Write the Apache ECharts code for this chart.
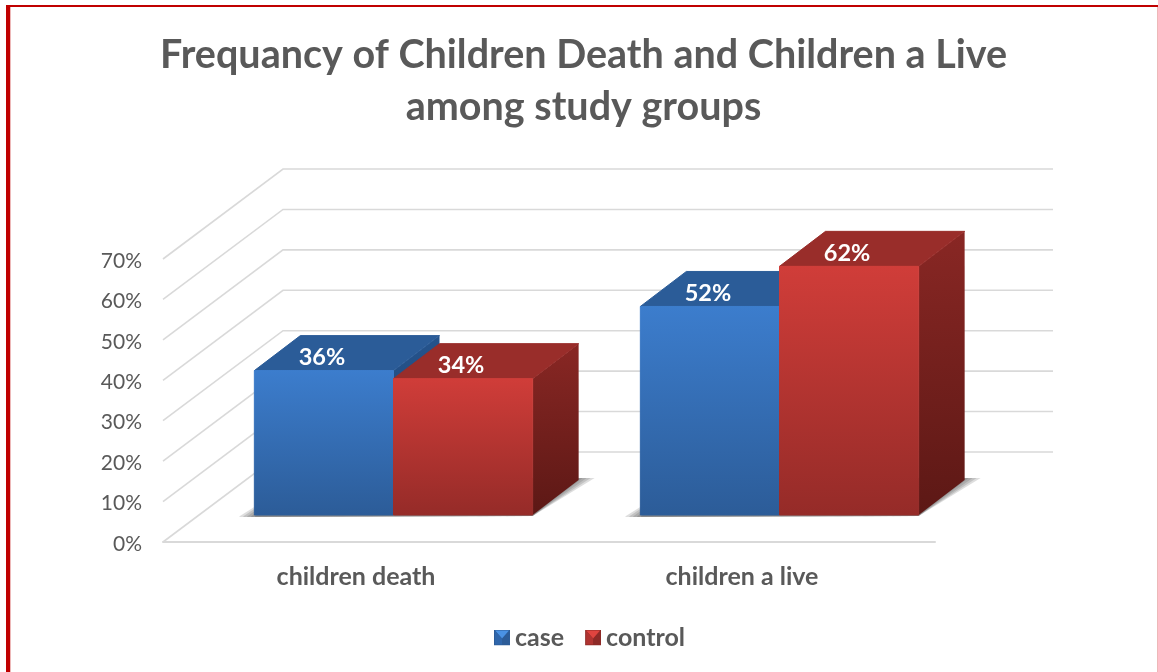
<!DOCTYPE html>
<html>
<head>
<meta charset="utf-8">
<style>html,body{margin:0;padding:0;background:#fff}#chart{width:1158px;height:672px}</style>
<script src="https://cdn.jsdelivr.net/npm/echarts@6/dist/echarts.min.js"></script>
</head>
<body>
<div id="chart"></div>
<script>
// Chart data
const titleLines = ['Frequancy of Children Death and Children a Live', 'among study groups'];
const categories = ['children death', 'children a live'];
const caseValues = [36, 52];
const controlValues = [34, 62];
const yTicks = [0, 10, 20, 30, 40, 50, 60, 70];

// Oblique projection of the 3D box scene
const WALL_DX = 120, WALL_DY = -90;
const BASE_DX = 37.5, BASE_DY = -27;
const BOX_DX = 46, BOX_DY = -35;
const BAR_SHARE = 0.3605;
const FORESHORTEN = 0.992;

const TEXT = '#595959';
const GRID_LINE = '#D9D9D9';
const FONT = 'Lato, "Open Sans", sans-serif';

const vertical = (top, bottom) => ({
  type: 'linear', x: 0, y: 0, x2: 0, y2: 1,
  colorStops: [{ offset: 0, color: top }, { offset: 1, color: bottom }]
});

const palette = {
  case: { front: vertical('#3C7DCD', '#2C5C98'), top: '#2B5C98', side: vertical('#25538C', '#1E4472') },
  control: { front: vertical('#D03D39', '#952B28'), top: '#992D2A', side: vertical('#892724', '#5C1815') }
};

// Wall rules: a diagonal up the side wall, then a horizontal along the back wall
function renderWallLine(params, api) {
  const grid = params.coordSys;
  const p = api.coord([0, api.value(0)]);
  const y = p[1], x0 = grid.x;
  return {
    type: 'polyline',
    shape: { points: [[x0, y], [x0 + WALL_DX, y + WALL_DY], [x0 + grid.width + WALL_DX - 2, y + WALL_DY]] },
    style: { stroke: GRID_LINE, lineWidth: 1.6, fill: null },
    silent: true
  };
}

// Soft floor shadow under each pair of boxes, built from stacked translucent layers
function renderShadow(params, api) {
  const c = api.coord([api.value(0), 0]);
  const band = api.size([1, 0])[0];
  const w = band * BAR_SHARE;
  const mid = c[0] + BASE_DX, y = c[1] + BASE_DY;
  const left = mid - w, right = mid + w;
  const layers = [16, 12, 8, 4, 0].map(spread => ({
    type: 'polygon',
    shape: { points: [
      [left - spread, y + 2], [right, y + 1],
      [right + BOX_DX + spread, y + BOX_DY - 2], [left + BOX_DX, y + BOX_DY - 2]
    ] },
    style: { fill: 'rgba(60,60,60,0.17)' },
    silent: true
  }));
  return { type: 'group', children: layers };
}

// One extruded box with its value printed on the top face
function boxRenderer(colors, side) {
  return function (params, api) {
    const i = api.value(0), v = api.value(1);
    const base = api.coord([i, 0]);
    const tip = api.coord([i, v]);
    const band = api.size([1, 0])[0];
    const w = band * BAR_SHARE;
    const mid = base[0] + BASE_DX;
    const x0 = side < 0 ? mid - w : mid;
    const x1 = x0 + w;
    const yb = base[1] + BASE_DY;
    const yt = yb - (base[1] - tip[1]) * FORESHORTEN;
    const poly = (points, fill, stroke) => ({
      type: 'polygon', shape: { points },
      style: { fill, stroke: stroke || fill, lineWidth: 1, lineJoin: 'round' }
    });
    return {
      type: 'group',
      children: [
        poly([[x1, yt], [x1 + BOX_DX, yt + BOX_DY], [x1 + BOX_DX, yb + BOX_DY], [x1, yb]], colors.side, 'transparent'),
        poly([[x0, yt], [x0 + BOX_DX, yt + BOX_DY], [x1 + BOX_DX, yt + BOX_DY], [x1, yt]], colors.top),
        poly([[x0, yt], [x1, yt], [x1, yb], [x0, yb]], colors.front),
        {
          type: 'text',
          style: {
            text: v + '%', x: (x0 + x1) / 2 - 2, y: yt - 13,
            fill: '#FFFFFF', font: 'bold 23.5px ' + FONT,
            textAlign: 'center', textVerticalAlign: 'middle'
          }
        }
      ]
    };
  };
}

// Small bevelled legend swatch
function swatch(dark, mid, light) {
  const svg = '<svg xmlns="http://www.w3.org/2000/svg" width="16" height="16">' +
    '<rect width="16" height="16" fill="' + dark + '"/>' +
    '<polygon points="1,1 15,1 8,9" fill="' + light + '"/>' +
    '<polygon points="1,1 8,9 8,15 1,15" fill="' + mid + '"/>' +
    '</svg>';
  return 'image://data:image/svg+xml;charset=utf-8,' + encodeURIComponent(svg);
}

const chart = echarts.init(document.getElementById('chart'), null, { renderer: 'canvas' });
chart.setOption({
  backgroundColor: '#FFFFFF',
  animation: false,
  title: {
    text: titleLines.join('\n'),
    left: 578.5, top: 24, textAlign: 'center',
    textStyle: { color: TEXT, fontFamily: FONT, fontWeight: 'bold', fontSize: 39.5, lineHeight: 52 }
  },
  legend: {
    left: 494, top: 625, itemWidth: 16, itemHeight: 16, itemGap: 21, padding: [0, 0, 0, 0],
    textStyle: { color: TEXT, fontFamily: FONT, fontWeight: 'bold', fontSize: 25 },
    data: [
      { name: 'case', icon: swatch('#2C5C98', '#2F66AB', '#4A92E4') },
      { name: 'control', icon: swatch('#8E2A27', '#B03431', '#E0443F') }
    ]
  },
  grid: { left: 163, right: 223, top: 259, bottom: 130 },
  xAxis: {
    type: 'category',
    data: categories,
    axisTick: { show: false },
    axisLine: { lineStyle: { color: GRID_LINE, width: 2 } },
    axisLabel: { color: TEXT, fontFamily: FONT, fontWeight: 'bold', fontSize: 25, margin: 22 }
  },
  yAxis: {
    type: 'value', min: 0, max: 70, interval: 10,
    axisLine: { show: false },
    axisTick: { show: false },
    splitLine: { show: false },
    axisLabel: { formatter: '{value}%', color: TEXT, fontFamily: FONT, fontSize: 21, margin: 21, verticalAlign: 'top', lineHeight: 4 }
  },
  series: [
    { type: 'custom', silent: true, z: 1, renderItem: renderWallLine, data: yTicks.map(t => [t]), encode: { y: 0 } },
    { type: 'custom', silent: true, z: 2, renderItem: renderShadow, data: categories.map((_, i) => [i, 0]), encode: { x: 0, y: 1 } },
    { name: 'case', type: 'custom', z: 3, renderItem: boxRenderer(palette.case, -1), itemStyle: { color: '#2C5C98' },
      data: caseValues.map((v, i) => [i, v]), encode: { x: 0, y: 1 } },
    { name: 'control', type: 'custom', z: 4, renderItem: boxRenderer(palette.control, 1), itemStyle: { color: '#B03431' },
      data: controlValues.map((v, i) => [i, v]), encode: { x: 0, y: 1 } }
  ],
  graphic: [
    { type: 'rect', silent: true, z: 100, shape: { x: 6, y: 5, width: 1152, height: 2 }, style: { fill: '#C00000' } },
    { type: 'rect', silent: true, z: 100, shape: { x: 6, y: 5, width: 4, height: 667 }, style: { fill: '#C00000' } },
    { type: 'rect', silent: true, z: 100, shape: { x: 10, y: 7, width: 1, height: 665 }, style: { fill: '#EDB8B8' } },
    { type: 'rect', silent: true, z: 100, shape: { x: 1157, y: 7, width: 1, height: 665 }, style: { fill: '#EDB8B8' } }
  ]
});
</script>
</body>
</html>
